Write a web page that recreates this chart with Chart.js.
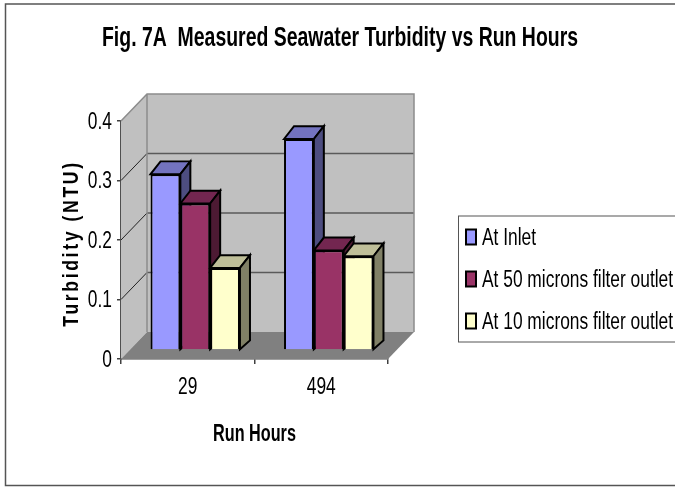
<!DOCTYPE html>
<html>
<head>
<meta charset="utf-8">
<title>Fig. 7A</title>
<style>
  html, body { margin: 0; padding: 0; background: #fff; }
  #wrap { position: relative; width: 675px; height: 487px; overflow: hidden; }
  canvas { display: block; }
</style>
<script src="https://cdn.jsdelivr.net/npm/chart.js@4/dist/chart.umd.min.js"></script>
</head>
<body>
<div id="wrap"><canvas id="turbidity" width="675" height="487"></canvas></div>
<script>
const runHours = ['29', '494'];
const atInlet = [0.3, 0.36];
const at50Microns = [0.25, 0.17];
const at10Microns = [0.14, 0.16];
const yTicks = [0, 0.1, 0.2, 0.3, 0.4];

const SANS = '"Liberation Sans", Arial, sans-serif';

// depth of the fake 3d box and of the bars
const WALL_X = 26, WALL_Y = 27;
const BAR_SHIFT_X = 7.5, BAR_SHIFT_Y = 9, BAR_SQUASH = 0.985;
const BAR_DX = 10, BAR_DY_TOP = 13, BAR_DY_BOTTOM = 9;

const shades = [
  { top: '#7373bf', side: '#4d4d80' },
  { top: '#732650', side: '#4d1a33' },
  { top: '#bfbf99', side: '#808066' }
];

const canvas = document.getElementById('turbidity');
const ctx2d = canvas.getContext('2d');

// the original uses a narrow face, no narrow font here so squeeze the text sideways
const squeeze = { 'bold 27px': 0.72, 'bold 23px': 0.705, 'bold 22px': 0.8 };
let textNudge = 0;
const rawFillText = ctx2d.fillText.bind(ctx2d);
ctx2d.fillText = function (text, x, y, maxWidth) {
  const key = Object.keys(squeeze).find((k) => ctx2d.font.indexOf(k) === 0);
  const sx = key ? squeeze[key] : 0.755;
  ctx2d.save();
  ctx2d.translate(x + textNudge, y + 1.5);
  ctx2d.scale(sx, 1);
  rawFillText(text, 0, 0, maxWidth);
  ctx2d.restore();
};

function poly(ctx, pts, fill, stroke, width) {
  ctx.beginPath();
  pts.forEach((p, i) => (i ? ctx.lineTo(p[0], p[1]) : ctx.moveTo(p[0], p[1])));
  ctx.closePath();
  if (fill) { ctx.fillStyle = fill; ctx.fill(); }
  if (stroke) { ctx.strokeStyle = stroke; ctx.lineWidth = width; ctx.stroke(); }
}

const box3d = {
  id: 'box3d',
  afterLayout(chart) {
    // legend sits apart from the plot, title is centred on the frame
    const lg = chart.legend;
    lg.left = 447; lg.top = 206.5; lg.right = 700; lg.bottom = 487;
    chart.titleBlock.left = 0;
    chart.titleBlock.right = 680;
  },
  beforeDraw(chart) {
    const { ctx } = chart;
    const y = chart.scales.y;
    if (!y.spacedTitle) {
      // axis title is letter spaced in the original
      const drawTitle = y.drawTitle;
      y.drawTitle = function () {
        ctx.save();
        ctx.letterSpacing = '3.3px';
        textNudge = -3.5;
        drawTitle.call(this);
        textNudge = 0;
        ctx.restore();
      };
      y.spacedTitle = true;
      const legendDraw = chart.legend.draw;
      chart.legend.draw = function (area) {
        textNudge = -5.5;
        legendDraw.call(this, area);
        textNudge = 0;
      };
    }
    // outer frame, runs off to the right
    ctx.save();
    ctx.strokeStyle = '#555555';
    ctx.lineWidth = 1.5;
    ctx.strokeRect(5.5, 4, 680, 481.5);
    // legend frame
    ctx.lineWidth = 1;
    ctx.strokeRect(458.5, 216, 220, 126);
    ctx.restore();
  },
  beforeDatasetsDraw(chart) {
    const { ctx, chartArea: a } = chart;
    const y = chart.scales.y;
    ctx.save();
    // side wall, back wall, floor
    poly(ctx, [[a.left, a.top], [a.left + WALL_X, a.top - WALL_Y], [a.left + WALL_X, a.bottom - WALL_Y], [a.left, a.bottom]], '#c0c0c0');
    poly(ctx, [[a.left + WALL_X, a.top - WALL_Y], [a.right + WALL_X, a.top - WALL_Y], [a.right + WALL_X, a.bottom - WALL_Y], [a.left + WALL_X, a.bottom - WALL_Y]], '#c0c0c0');
    // grid lines follow the y ticks
    yTicks.forEach((v) => {
      const py = y.getPixelForValue(v);
      if (v > 0 && v < 0.4) {
        ctx.strokeStyle = '#5a5a5a';
        ctx.lineWidth = 1.5;
        ctx.beginPath();
        ctx.moveTo(a.left + WALL_X, py - WALL_Y);
        ctx.lineTo(a.right + WALL_X, py - WALL_Y);
        ctx.stroke();
        ctx.strokeStyle = '#222222';
        ctx.lineWidth = 1;
        ctx.beginPath();
        ctx.moveTo(a.left, py);
        ctx.lineTo(a.left + WALL_X, py - WALL_Y);
        ctx.stroke();
      }
    });
    // wall outlines
    ctx.strokeStyle = '#8c8c8c';
    ctx.lineWidth = 1.5;
    ctx.beginPath();
    ctx.moveTo(a.left, a.top);
    ctx.lineTo(a.left + WALL_X, a.top - WALL_Y);
    ctx.lineTo(a.right + WALL_X, a.top - WALL_Y);
    ctx.lineTo(a.right + WALL_X, a.bottom - WALL_Y);
    ctx.moveTo(a.left + WALL_X, a.top - WALL_Y);
    ctx.lineTo(a.left + WALL_X, a.bottom - WALL_Y);
    ctx.stroke();
    poly(ctx, [[a.left, a.bottom], [a.right, a.bottom], [a.right + WALL_X, a.bottom - WALL_Y], [a.left + WALL_X, a.bottom - WALL_Y]], '#808080');

    // bars sit a little behind the axis plane, so they read slightly shorter
    ctx.translate(BAR_SHIFT_X, a.bottom - BAR_SHIFT_Y);
    ctx.scale(1, BAR_SQUASH);
    ctx.translate(0, -a.bottom);
    // tops and sides first, series by series, fronts come from Chart.js afterwards
    chart.data.datasets.forEach((ds, di) => {
      chart.getDatasetMeta(di).data.forEach((bar) => {
        const p = bar.getProps(['x', 'y', 'base', 'width'], true);
        const l = p.x - p.width / 2, r = p.x + p.width / 2;
        ctx.lineJoin = 'miter';
        poly(ctx, [[l, p.y], [l + BAR_DX, p.y - BAR_DY_TOP], [r + BAR_DX, p.y - BAR_DY_TOP], [r, p.y]], shades[di].top, '#000000', 2);
        poly(ctx, [[r, p.y], [r + BAR_DX, p.y - BAR_DY_TOP], [r + BAR_DX, p.base - BAR_DY_BOTTOM], [r, p.base]], shades[di].side, '#000000', 2);
      });
    });
  },
  afterDatasetsDraw(chart) {
    chart.ctx.restore();
  }
};

const barStyle = { borderColor: '#000000', borderWidth: 2, categoryPercentage: 0.67, barPercentage: 1, clip: false };

new Chart(canvas, {
  type: 'bar',
  data: {
    labels: runHours,
    datasets: [
      { label: 'At Inlet', data: atInlet, backgroundColor: '#9999ff', ...barStyle },
      { label: 'At 50 microns filter outlet', data: at50Microns, backgroundColor: '#993366', ...barStyle },
      { label: 'At 10 microns filter outlet', data: at10Microns, backgroundColor: '#ffffcc', ...barStyle }
    ]
  },
  plugins: [box3d],
  options: {
    responsive: false,
    animation: false,
    devicePixelRatio: 1,
    layout: { padding: { right: 87 } },
    scales: {
      x: {
        afterFit(s) { s.height = 128; },
        grid: { drawOnChartArea: false, color: '#404040', tickLength: 5, lineWidth: 1.5 },
        border: { color: '#404040', width: 1.5 },
        ticks: { color: '#000000', font: { family: SANS, size: 23 }, padding: 8.5 },
        title: {
          display: true,
          text: 'Run Hours',
          color: '#000000',
          font: { family: SANS, size: 23, weight: 'bold' },
          padding: { top: 0, bottom: 39.7 }
        }
      },
      y: {
        min: 0,
        max: 0.4,
        afterFit(s) { s.width = 121; },
        afterBuildTicks(s) { s.ticks = yTicks.map((v) => ({ value: v })); },
        grid: { drawOnChartArea: false, color: '#404040', tickLength: 4, lineWidth: 1.5 },
        border: { color: '#505050', width: 2 },
        ticks: {
          color: '#000000',
          font: { family: SANS, size: 23 },
          padding: 5,
          callback: (v) => String(v)
        },
        title: {
          display: true,
          text: 'Turbidity (NTU)',
          color: '#000000',
          font: { family: SANS, size: 22, weight: 'bold' },
          padding: { top: 56.8, bottom: 0 }
        }
      }
    },
    plugins: {
      title: {
        display: true,
        text: 'Fig. 7A  Measured Seawater Turbidity vs Run Hours',
        color: '#000000',
        font: { family: SANS, size: 27, weight: 'bold' },
        padding: { top: 21, bottom: 67.6 }
      },
      legend: {
        position: 'right',
        align: 'start',
        maxWidth: 200,
        labels: {
          color: '#000000',
          font: { family: SANS, size: 23 },
          boxWidth: 10,
          boxHeight: 15,
          padding: 19,
          generateLabels(chart) {
            return chart.data.datasets.map((ds, i) => ({
              text: ds.label,
              fillStyle: ds.backgroundColor,
              strokeStyle: '#000000',
              lineWidth: 2,
              datasetIndex: i
            }));
          }
        }
      },
      tooltip: { enabled: false }
    }
  }
});
</script>
</body>
</html>
